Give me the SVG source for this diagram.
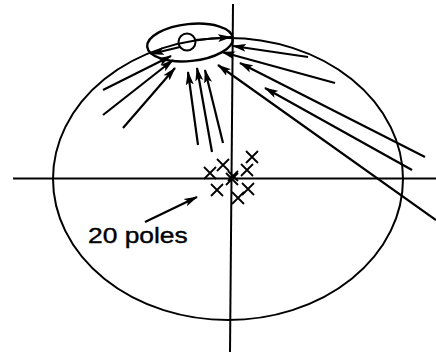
<svg xmlns="http://www.w3.org/2000/svg" width="436" height="352" viewBox="0 0 436 352">
<defs>
<marker id="ah" viewBox="0 0 14 9" refX="13" refY="4.5" markerWidth="14" markerHeight="9" markerUnits="userSpaceOnUse" orient="auto">
<path d="M0,0.5 L14,4.5 L0,8.5 L3,4.5 Z" fill="#000"/>
</marker>
</defs>
<style>
.ln{stroke:#000;stroke-width:2;fill:none}
.ar{stroke:#000;stroke-width:2.2;fill:none;marker-end:url(#ah)}
.x{stroke:#000;stroke-width:1.8;fill:none}
.t{font-family:"Liberation Sans",Arial,sans-serif;font-size:22px;fill:#000;stroke:#000;stroke-width:0.4}
</style>
<rect width="436" height="352" fill="#fff"/>
<g id="axes">
<line class="ln" x1="13" y1="178.5" x2="436" y2="178.5"/>
<line class="ln" x1="233" y1="4" x2="230" y2="352"/>
</g>
<g id="sphere">
<ellipse class="ln" cx="228" cy="179" rx="175" ry="141"/>
</g>
<g id="source">
<ellipse stroke="#000" stroke-width="2.4" fill="none" cx="190" cy="42.5" rx="43" ry="18.5" transform="rotate(-6 190 42.5)"/>
<circle class="ln" cx="187" cy="42" r="8.5"/>
</g>
<g id="poles">
<path class="x" d="M246,151l12,12m0,-12l-12,12 M217,159l12,12m0,-12l-12,12 M241,164l12,12m0,-12l-12,12 M204,167l12,12m0,-12l-12,12 M226,173l12,12m0,-12l-12,12 M228,171l10,10m0,-10l-10,10 M211,184l12,12m0,-12l-12,12 M242,183l12,12m0,-12l-12,12 M232,192l12,12m0,-12l-12,12"/>
</g>
<g id="label">
<text class="t" transform="translate(88,243) scale(1.2,1)" x="0" y="0">20 poles</text>
</g>
<g id="connectors">
<line class="ar" x1="180" y1="47" x2="151" y2="54"/>
<line class="ar" x1="195" y1="40" x2="231" y2="37"/>
<line class="ar" x1="103" y1="90" x2="171" y2="56"/>
<line class="ar" x1="103" y1="115" x2="173" y2="60"/>
<line class="ar" x1="123" y1="128" x2="175" y2="68"/>
<line class="ar" x1="198" y1="145" x2="188" y2="72"/>
<line class="ar" x1="212" y1="152" x2="197" y2="68"/>
<line class="ar" x1="223" y1="143" x2="205" y2="70"/>
<line class="ar" x1="308" y1="57" x2="233" y2="46"/>
<line class="ar" x1="335" y1="83" x2="222" y2="52"/>
<line class="ar" x1="425" y1="157" x2="240" y2="63"/>
<line class="ar" x1="412" y1="170" x2="265" y2="88"/>
<line class="ar" x1="436" y1="220" x2="218" y2="65"/>
<line class="ar" x1="145" y1="222" x2="197" y2="197"/>
</g>
</svg>
